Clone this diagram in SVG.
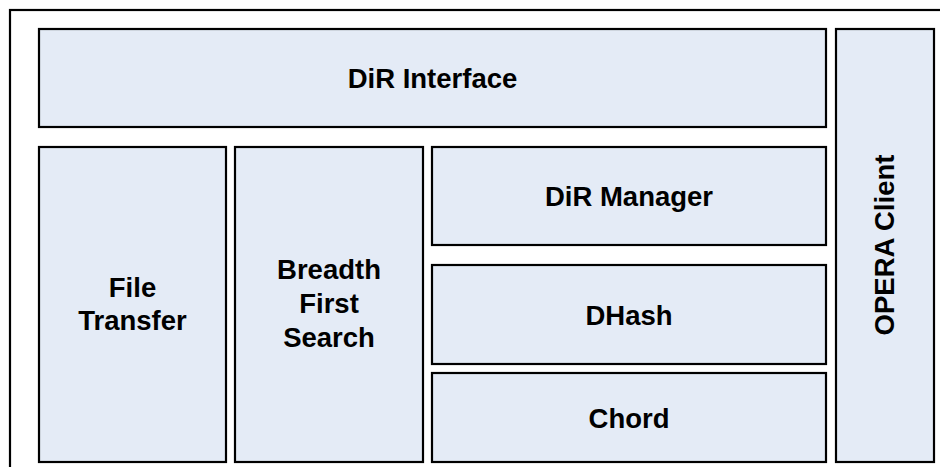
<svg xmlns="http://www.w3.org/2000/svg" width="940" height="467" viewBox="0 0 940 467">
  <style>
    .frame { fill: #ffffff; stroke: #000000; stroke-width: 2.2; }
    .box { fill: #e4ebf6; stroke: #000000; stroke-width: 2.2; }
    .label { font-family: "Liberation Sans", Arial, sans-serif; font-weight: bold; font-size: 27.5px; fill: #000000; text-anchor: middle; }
  </style>
  <rect x="0" y="0" width="940" height="467" fill="#ffffff"/>
  <!-- outer frame, running past the right and bottom edges -->
  <rect class="frame" x="10" y="10" width="950" height="480"/>

  <g id="dir-interface">
    <rect class="box" x="39" y="29" width="787" height="98"/>
    <text class="label" x="432.5" y="87.5">DiR Interface</text>
  </g>

  <g id="opera-client">
    <rect class="box" x="836" y="29" width="98" height="433"/>
    <text class="label" transform="translate(894.3 245) rotate(-90)">OPERA Client</text>
  </g>

  <g id="file-transfer">
    <rect class="box" x="39" y="147" width="187" height="315"/>
    <text class="label" x="132.5" y="296.7">File</text>
    <text class="label" x="132.5" y="329.5">Transfer</text>
  </g>

  <g id="breadth-first-search">
    <rect class="box" x="235" y="147" width="188" height="315"/>
    <text class="label" x="329" y="278.5">Breadth</text>
    <text class="label" x="329" y="312.5">First</text>
    <text class="label" x="329" y="346.5">Search</text>
  </g>

  <g id="dir-manager">
    <rect class="box" x="432" y="147" width="394" height="98"/>
    <text class="label" x="629" y="206">DiR Manager</text>
  </g>

  <g id="dhash">
    <rect class="box" x="432" y="265" width="394" height="99"/>
    <text class="label" x="629" y="324.5">DHash</text>
  </g>

  <g id="chord">
    <rect class="box" x="432" y="373" width="394" height="89"/>
    <text class="label" x="629" y="427.5">Chord</text>
  </g>

  <!-- the layers only touch by adjacency; there are no connector lines -->
  <g id="connectors"/>
</svg>
